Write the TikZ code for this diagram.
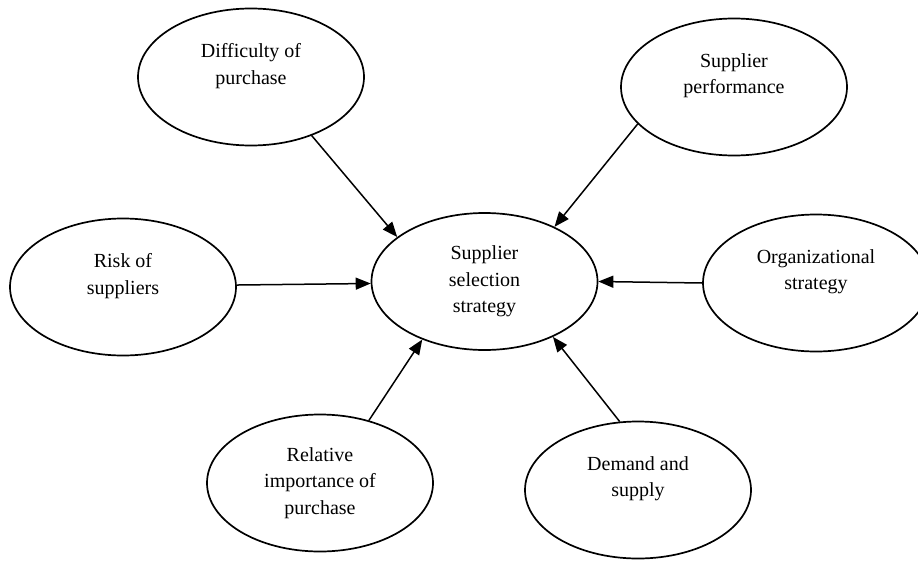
\documentclass[tikz,border=0pt]{standalone}
\usepackage{fontspec}
\setmainfont{Liberation Serif}
\usetikzlibrary{arrows.meta,shapes.geometric}
\begin{document}
\begin{tikzpicture}[x=1pt,y=-1pt,
  bubble/.style={draw,line width=1.7pt,ellipse,minimum width=226pt,minimum height=137pt,inner sep=0pt,align=center,font=\fontsize{20}{26.5}\selectfont},
  conn/.style={line width=1.5pt,-{Triangle[length=15pt,width=12pt]}}]
\clip (0,0) rectangle (918,560);
\node[bubble] (sel) at (484.5,281.5) {Supplier\\selection\\strategy};
\node[bubble] (dif) at (251,77) {Difficulty of\\purchase\\\mbox{}};
\node[bubble] (perf) at (734,87) {Supplier\\performance\\\mbox{}};
\node[bubble] (risk) at (123,287) {Risk of\\suppliers\\\mbox{}};
\node[bubble] (org) at (816,283) {Organizational\\strategy\\\mbox{}};
\node[bubble] (rel) at (320,483) {Relative\\importance of\\purchase};
\node[bubble] (dem) at (638,490) {Demand and\\supply\\\mbox{}};
\draw[conn] (dif.-44.5) -- (sel.153);
\draw[conn] (perf.-159) -- (sel.38);
\draw[conn] (risk.1) -- (sel.181);
\draw[conn] (org.180) -- (sel.0);
\draw[conn] (rel.52) -- (sel.223);
\draw[conn] (dem.105) -- (sel.-39);
\end{tikzpicture}
\end{document}
